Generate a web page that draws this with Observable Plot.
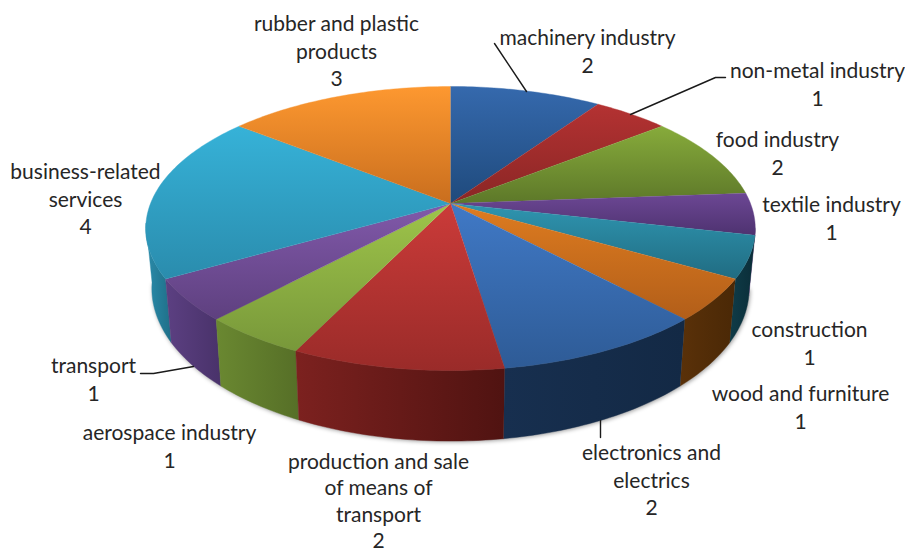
<!DOCTYPE html>
<html>
<head>
<meta charset="utf-8">
<script src="https://cdn.jsdelivr.net/npm/d3@7"></script>
<script src="https://cdn.jsdelivr.net/npm/@observablehq/plot@0.6"></script>
<style>
  html, body { margin: 0; background: #fff; }
  svg { display: block; }
</style>
</head>
<body>
<div id="chart"></div>
<script>
// Companies per industry, clockwise from twelve o'clock
const categories = [
  "machinery industry", "non-metal industry", "food industry", "textile industry",
  "wood and furniture", "construction", "electronics and electrics",
  "production and sale of means of transport", "aerospace industry", "transport",
  "business-related services", "rubber and plastic products"
];
const values = [2, 1, 2, 1, 1, 1, 2, 2, 1, 1, 4, 3];
const labelLines = [
  ["machinery industry"], ["non-metal industry"], ["food industry"], ["textile industry"],
  ["wood and furniture"], ["construction"], ["electronics and", "electrics"],
  ["production and sale", "of means of", "transport"], ["aerospace industry"], ["transport"],
  ["business-related", "services"], ["rubber and plastic", "products"]
];

// Per-slice shading: top face (light, dark) and side wall (left, right)
const faceLight = ["#3569ad", "#b43232", "#87ab3b", "#6c4794", "#2f95b0", "#de7c20", "#4079c6", "#cb3b39", "#9ec44a", "#8159aa", "#36b2d8", "#fd9830"];
const faceDark  = ["#1f4a7c", "#8a2625", "#5d7829", "#4e3270", "#206c82", "#b25e19", "#2e5b96", "#9a2b29", "#78983a", "#5e407f", "#2a8cad", "#c96e1e"];
const wallLeft  = ["#1a3a60", "#6e1e1c", "#4f6622", "#4f2f72", "#0f3c48", "#5a3109", "#172f4f", "#7c211f", "#6a8831", "#5c4082", "#2b8cab", "#a85a16"];
const wallRight = ["#14304f", "#561614", "#435720", "#3f2a5c", "#0b2d38", "#4a2806", "#132945", "#501311", "#566f27", "#49326a", "#1f6f88", "#8c4a12"];

// Label placement on the page; the longest block sits against the bottom edge
const labelX = [587, 817, 777, 831, 800, 809, 651, 378, 169, 93, 85, 336];
const labelY = [38, 71, 140, 205, 394, 330, 453, 462, 433, 366, 172, 24];
const lineStep = labelLines.map((lines) => lines.length === 3 ? 26.2 : 27.6);

// Leader lines, one list of [x, y] vertices per line
const leaders = [
  [[494, 43], [526, 91]],
  [[725, 77], [715, 77], [630, 114]],
  [[140, 373], [153, 373], [193, 366]],
  [[600, 420], [600, 437]]
];

// Perspective view of the pie disc: the hub sits off the ellipse centre
const perspective = 0.176;
const topRim = {cx: 450, cy: 203, fx: 300, fy: 137.6};
const bottomRim = {cx: 450, cy: 261, fx: 294, fy: 148};
const project = (rim, deg) => {
  const t = deg * Math.PI / 180;
  const d = 1 + perspective * Math.cos(t);
  return {x: rim.cx + rim.fx * Math.sin(t) / d, y: rim.cy - rim.fy * Math.cos(t) / d};
};
const arc = (rim, a, b) => {
  const n = Math.max(2, Math.ceil(Math.abs(b - a)) + 1);
  return d3.range(n).map((i) => project(rim, a + (b - a) * i / (n - 1)));
};

// Slice angles come straight from the values
const total = d3.sum(values);
const edges = d3.cumsum(values).map((v) => v / total * 360);
const slices = values.map((v, i) => ({i, a: i ? edges[i - 1] : 0, b: edges[i]}));

// The wall only shows on the near side of the disc
const wallFrom = 100, wallTo = 262;
const walls = slices
  .map((s) => ({...s, a: Math.max(s.a, wallFrom), b: Math.min(s.b, wallTo)}))
  .filter((s) => s.b > s.a)
  .sort((p, q) => Math.abs((q.a + q.b) / 2 - 180) - Math.abs((p.a + p.b) / 2 - 180));

const wallPath = (s) => [...arc(topRim, s.a, s.b), ...arc(bottomRim, s.b, s.a)];
const facePath = (s) => [{x: topRim.cx, y: topRim.cy}, ...arc(topRim, s.a, s.b)];

// Gradient definitions shared by the slice marks
const gradients = () => {
  const NS = "http://www.w3.org/2000/svg";
  const defs = document.createElementNS(NS, "defs");
  const add = (id, x2, y2, c0, c1) => {
    const g = document.createElementNS(NS, "linearGradient");
    g.setAttribute("id", id);
    g.setAttribute("x1", 0); g.setAttribute("y1", 0);
    g.setAttribute("x2", x2); g.setAttribute("y2", y2);
    [[0, c0], [1, c1]].forEach(([o, c]) => {
      const stop = document.createElementNS(NS, "stop");
      stop.setAttribute("offset", o);
      stop.setAttribute("stop-color", c);
      g.appendChild(stop);
    });
    defs.appendChild(g);
  };
  values.forEach((_, i) => {
    add(`face${i}`, 0, 1, faceLight[i], faceDark[i]);
    add(`wall${i}`, 1, 0, wallLeft[i], wallRight[i]);
  });
  return defs;
};

const labels = categories.flatMap((_, i) =>
  [...labelLines[i], String(values[i])].map((text, k) => ({text, x: labelX[i], y: labelY[i] + k * lineStep[i]}))
);

const chart = Plot.plot({
  width: 905,
  height: 553,
  margin: 0,
  x: {domain: [0, 905], range: [0, 905], axis: null},
  y: {domain: [0, 553], range: [0, 553], axis: null},
  style: {background: "#fff"},
  marks: [
    gradients,
    // soft shadow under the disc
    Plot.line(arc(bottomRim, wallFrom, wallTo), {
      x: "x", y: "y", fill: "#000", stroke: "none", opacity: 0.4, dx: 1, dy: 1, imageFilter: "blur(2px)"
    }),
    ...walls.map((s) => Plot.line(wallPath(s), {
      x: "x", y: "y", fill: `url(#wall${s.i})`, stroke: `url(#wall${s.i})`, strokeWidth: 0.4
    })),
    ...slices.map((s) => Plot.line(facePath(s), {
      x: "x", y: "y", fill: `url(#face${s.i})`, stroke: `url(#face${s.i})`, strokeWidth: 0.4
    })),
    ...leaders.map((pts) => Plot.line(pts, {
      x: (d) => d[0], y: (d) => d[1], stroke: "#1a1a1a", strokeWidth: 1.4
    })),
    Plot.text(labels, {
      x: "x", y: "y", text: "text", textAnchor: "middle", lineAnchor: "middle",
      fontFamily: "Lato", fontSize: 21, fill: "#262626"
    })
  ]
});
document.getElementById("chart").appendChild(chart);
</script>
</body>
</html>
